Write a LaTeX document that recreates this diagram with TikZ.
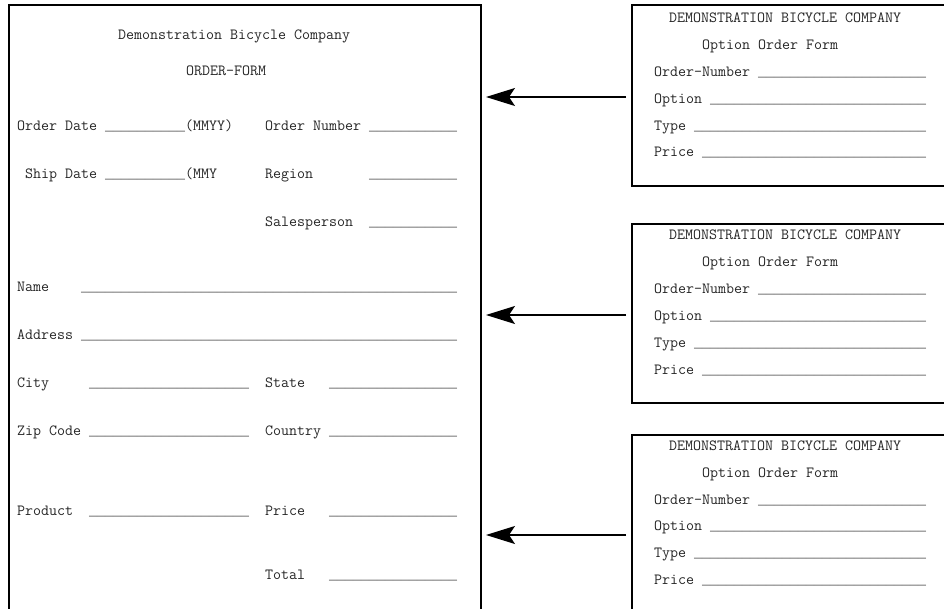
\documentclass[tikz,border=0pt]{standalone}
\usepackage{fontspec}
\newfontfamily\blankfont{Liberation Mono}
\usetikzlibrary{arrows.meta}
\newcommand\blanks[1]{{\blankfont\fontsize{13.33}{16}\selectfont\foreach\bi in {1,...,#1}{\_}}}
\tikzset{
  frame/.style={draw, line width=1.6pt, rectangle, inner sep=0pt, outer sep=0pt, anchor=north west},
  txt/.style={anchor=base west, inner sep=0pt, font=\ttfamily\fontsize{15.53}{18}\selectfont, text=black!85},
  arr/.style={line width=1.6pt, -{Stealth[length=29pt,width=18pt,inset=6pt]}},
}
% option order form: #1 name, #2 box top, #3 box height, #4 text offset
\newcommand\optform[4]{%
  \node[frame, minimum width=340pt, minimum height=#3pt] (#1) at (632,#2) {};
  \node[txt] (#1a) at (669,23+#4) {DEMONSTRATION BICYCLE COMPANY};
  \node[txt] (#1b) at (702,50+#4) {Option Order Form};
  \node[txt] (#1c) at (654,77+#4) {Order-Number~\blanks{21}};
  \node[txt] (#1d) at (654,103.5+#4) {Option~\blanks{27}};
  \node[txt] (#1e) at (654,130.5+#4) {Type~\blanks{29}};
  \node[txt] (#1f) at (654,157+#4) {Price~\blanks{28}};
}
\begin{document}
\frenchspacing
\begin{tikzpicture}[x=1pt,y=-1pt]
\useasboundingbox (0,0) rectangle (944,609);
\clip (0,0) rectangle (944,609);
\fill[white] (0,0) rectangle (944,609);

% main order form
\node[frame, minimum width=472pt, minimum height=640pt] (form) at (9,5) {};
\node[txt] (title) at (118,40) {Demonstration Bicycle Company};
\node[txt] (sub) at (186,76) {ORDER-FORM};
\node[txt] (odate) at (17,131) {Order Date \blanks{10}(MMYY)};
\node[txt] (onum) at (265,131) {Order Number \blanks{11}};
\node[txt] (sdate) at (25,179) {Ship Date \blanks{10}(MMY};
\node[txt] (region) at (265,179) {Region~~~~~~~\blanks{11}};
\node[txt] (sales) at (265,227) {Salesperson~~\blanks{11}};
\node[txt] (name) at (17,291) {Name~~~~\blanks{47}};
\node[txt] (addr) at (17,339) {Address~\blanks{47}};
\node[txt] (city) at (17,387) {City~~~~~\blanks{20}};
\node[txt] (state) at (265,387) {State~~~\blanks{16}};
\node[txt] (zip) at (17,435) {Zip Code~\blanks{20}};
\node[txt] (country) at (265,435) {Country~\blanks{16}};
\node[txt] (prod) at (17,515) {Product~~\blanks{20}};
\node[txt] (price) at (265,515) {Price~~~\blanks{16}};
\node[txt] (total) at (265,579) {Total~~~\blanks{16}};

% option order forms
\optform{opA}{5}{181}{0}
\optform{opB}{224}{179}{217}
\optform{opC}{435}{200}{427}

% connectors
\coordinate (y1) at (0,97);
\coordinate (y2) at (0,315);
\coordinate (y3) at (0,535);
\draw[arr, shorten <=6pt, shorten >=5pt] (opA.west |- y1) -- (form.east |- y1);
\draw[arr, shorten <=6pt, shorten >=5pt] (opB.west |- y2) -- (form.east |- y2);
\draw[arr, shorten <=6pt, shorten >=5pt] (opC.west |- y3) -- (form.east |- y3);
\end{tikzpicture}
\end{document}
